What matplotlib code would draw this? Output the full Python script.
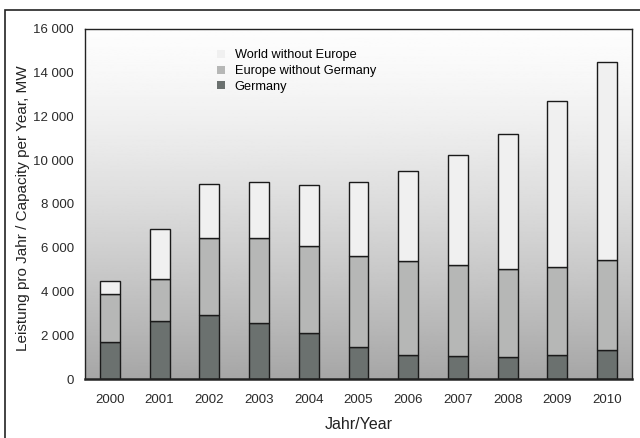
import numpy as np
import matplotlib
matplotlib.use("Agg")
import matplotlib.pyplot as plt
from matplotlib.patches import Rectangle

years = ["2000", "2001", "2002", "2003", "2004", "2005", "2006", "2007", "2008", "2009", "2010"]
germany = [1690, 2650, 2920, 2540, 2090, 1480, 1100, 1050, 990, 1110, 1340]
europe_top = [3890, 4560, 6460, 6430, 6080, 5640, 5380, 5200, 5030, 5120, 5440]
totals = [4480, 6860, 8900, 9000, 8850, 8990, 9510, 10230, 11210, 12710, 14500]
europe_wo_de = [e - g for e, g in zip(europe_top, germany)]
world_wo_eu = [t - e for t, e in zip(totals, europe_top)]
yticks = [0, 2000, 4000, 6000, 8000, 10000, 12000, 14000, 16000]

plt.rcParams['font.family'] = ['Liberation Sans', 'DejaVu Sans']

fig = plt.figure(figsize=(6.4, 4.38), dpi=100)
fig.patch.set_facecolor('white')
ax = fig.add_axes([85/640, 1-379/438, (632-85)/640, (379-29)/438])

# gradient background, white at top to grey at bottom
t = np.linspace(0, 1, 256).reshape(-1, 1)
grad = 0.99 - 0.34 * t**1.4
ax.imshow(grad, cmap='gray', vmin=0, vmax=1, aspect='auto',
          extent=[-0.5, 10.5, 0, 16000], origin='upper', zorder=0)

x = np.arange(len(years))
w = 0.4
kw = dict(width=w, edgecolor='#1a1a1a', linewidth=1.0, zorder=2)
ax.bar(x, germany, color='#6b716f', label='Germany', **kw)
ax.bar(x, europe_wo_de, bottom=germany, color='#b6b7b6', label='Europe without Germany', **kw)
ax.bar(x, world_wo_eu, bottom=europe_top, color='#f0f0f0', label='World without Europe', **kw)

ax.set_xlim(-0.5, 10.5)
ax.set_ylim(0, 16000)
ax.set_xticks(x)
ax.set_xticklabels(years, fontsize=9.5, color='#2a2a2a')
ax.set_yticks(yticks)
ax.set_yticklabels([f"{v:,}".replace(",", " ") for v in yticks], fontsize=9.5, color='#2a2a2a')
ax.tick_params(axis='x', length=0, pad=11)
ax.tick_params(axis='y', length=0, pad=8)

for s in ax.spines.values():
    s.set_color('#222222')
    s.set_linewidth(1.0)
ax.spines['bottom'].set_linewidth(1.8)

ax.set_xlabel('Jahr/Year', fontsize=11.5, color='#222222', labelpad=8)
fig.text(23/640, 1 - 208/438, 'Leistung pro Jahr / Capacity per Year, MW', rotation=90,
         ha='center', va='center', fontsize=11, color='#222222')

h, l = ax.get_legend_handles_labels()
leg = ax.legend(h[::-1], l[::-1], loc='upper left', bbox_to_anchor=(0.22, 0.975),
                frameon=False, fontsize=9.2, handlelength=0.6, handleheight=0.6,
                handletextpad=0.8, labelspacing=0.3)
for p in leg.get_patches():
    p.set_edgecolor('none')

# outer frame
fig.patches.append(Rectangle((5/640, -0.01), 1, 1 - 10/438 + 0.01, transform=fig.transFigure,
                             fill=False, edgecolor='#222222', linewidth=1.2))

fig.savefig('out.png', dpi=100)
